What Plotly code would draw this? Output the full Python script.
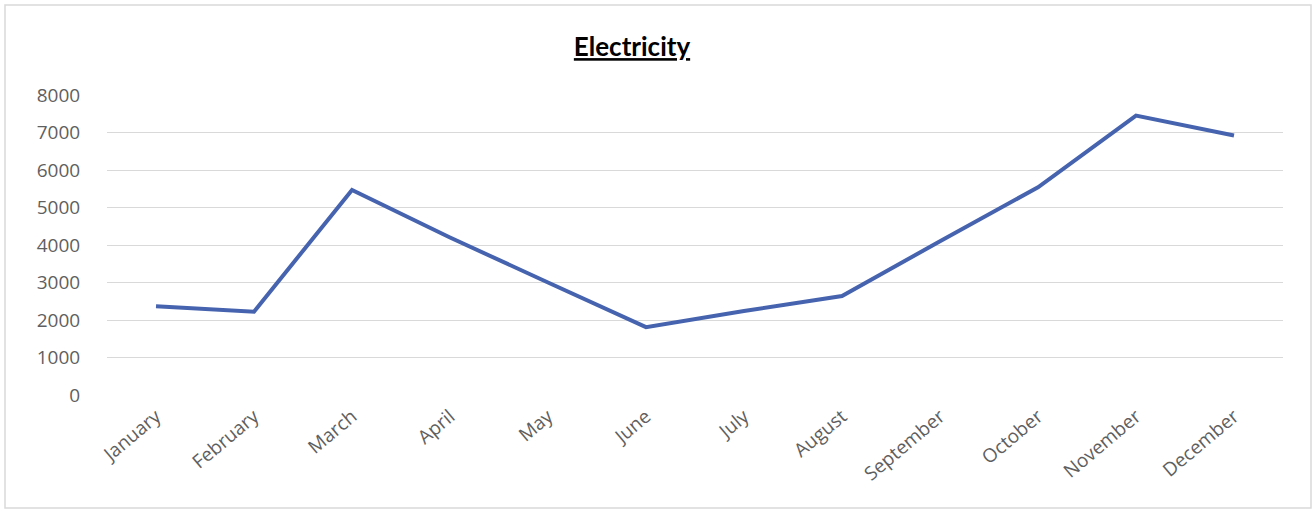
import plotly.graph_objects as go

months = ["January", "February", "March", "April", "May", "June", "July",
          "August", "September", "October", "November", "December"]
electricity = [2370, 2220, 5470, 4200, 3000, 1810, 2240, 2640, 4100, 5540, 7450, 6920]
y_ticks = [0, 1000, 2000, 3000, 4000, 5000, 6000, 7000, 8000]

W, H = 1316, 511
L, R, T, B = 107, 33, 95, 116
pw, ph = W - L - R, H - T - B

fig = go.Figure()
fig.add_trace(go.Scatter(
    x=months, y=electricity, mode="lines",
    line=dict(color="#4563AE", width=4),
    showlegend=False, hoverinfo="x+y",
))

x_font = dict(family="'Open Sans', sans-serif", size=19, color="#5f5f5f")
y_font = dict(family="'Open Sans', sans-serif", size=19, color="#5f5f5f")

fig.update_layout(
    width=W, height=H,
    margin=dict(l=L, r=R, t=T, b=B, pad=0),
    paper_bgcolor="white", plot_bgcolor="white",
    title=dict(
        text="<u><b>Electricity</b></u>",
        x=632 / W, xanchor="center", xref="container",
        y=1 - 47 / H, yanchor="middle", yref="container",
        font=dict(family="Lato, 'Open Sans', sans-serif", size=26, color="#000000"),
    ),
    xaxis=dict(
        type="category", categoryorder="array", categoryarray=months,
        tickangle=-40, tickfont=x_font,
        showgrid=False, showline=False, zeroline=False,
        ticks="outside", ticklen=2, tickcolor="rgba(0,0,0,0)",
        range=[-0.5, 11.5],
    ),
    yaxis=dict(
        range=[0, 8000], tickvals=y_ticks, tickfont=y_font,
        showgrid=True, gridcolor="#d9d9d9", gridwidth=1,
        zeroline=False, showline=False,
        ticks="outside", ticklen=22, tickcolor="rgba(0,0,0,0)",
    ),
    shapes=[dict(
        type="rect", xref="paper", yref="paper",
        x0=(5 - L) / pw, x1=(1311 - L) / pw,
        y0=(T + ph - 508) / ph, y1=(T + ph - 5) / ph,
        line=dict(color="#d9d9d9", width=1.5), fillcolor="rgba(0,0,0,0)",
        layer="below",
    )],
)

fig.write_html("out.html")
